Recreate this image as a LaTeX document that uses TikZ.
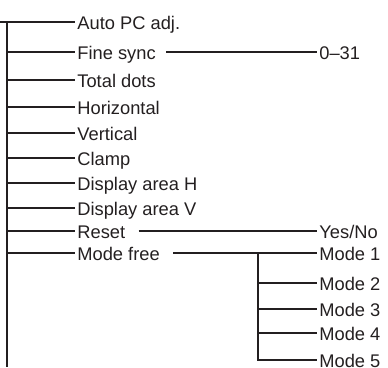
\documentclass[tikz,border=0pt]{standalone}
\usepackage{fontspec}
\setmainfont{Liberation Sans}
\usetikzlibrary{positioning}
\definecolor{inkgray}{RGB}{35, 31, 32}
\begin{document}
\begin{tikzpicture}[x=0.5pt, y=-0.5pt,
			item/.style={anchor=west, inner sep=1pt, font=\fontsize{9.15}{11}\selectfont, text height=0.72em, text depth=0pt, text=inkgray},
			link/.style={draw=inkgray, line width=0.65pt},
			sublink/.style={link, shorten <=4pt}
		]
		\useasboundingbox (0,0) rectangle (388,368);
		\coordinate (lead) at (0,22);
		\coordinate (spine) at (7,22);
		\coordinate (spineend) at (7,367);
		\coordinate (fork) at (258,253);
		
		\node[item] (auto) at (75,22) {Auto PC adj.};
		\node[item] (fine) at (75,52) {Fine sync};
		\node[item] (total) at (75,80) {Total dots};
		\node[item] (horiz) at (75,107) {Horizontal};
		\node[item] (vert) at (75,133) {Vertical};
		\node[item] (clamp) at (75,158) {Clamp};
		\node[item] (disph) at (75,183) {Display area H};
		\node[item] (dispv) at (75,208) {Display area V};
		\node[item] (reset) at (75,231) {Reset};
		\node[item] (mfree) at (75,253) {Mode free};
		
		\node[item] (range) at (317,52) {0--31};
		\node[item] (yesno) at (317,231) {Yes/No};
		\node[item] (mode1) at (317,253) {Mode 1};
		\node[item] (mode2) at (317,283) {Mode 2};
		\node[item] (mode3) at (317,309) {Mode 3};
		\node[item] (mode4) at (317,333) {Mode 4};
		\node[item] (mode5) at (317,360) {Mode 5};
		
		\draw[link] (lead) -- (auto.west);
		\draw[link] (spine) -- (spineend);
		\foreach \n in {fine,total,horiz,vert,clamp,disph,dispv,reset,mfree}
			\draw[link] (\n.west -| spine) -- (\n.west);
		
		\draw[sublink] (fine.east) -- (range.west);
		\draw[sublink, shorten <=5.5pt] (reset.east) -- (yesno.west);
		\draw[sublink, shorten <=5.5pt] (mfree.east) -- (mode1.west);
		\draw[link] (fork) |- (mode5.west);
		\foreach \n in {mode2,mode3,mode4}
			\draw[link] (\n.west -| fork) -- (\n.west);
		\end{tikzpicture}
\end{document}
